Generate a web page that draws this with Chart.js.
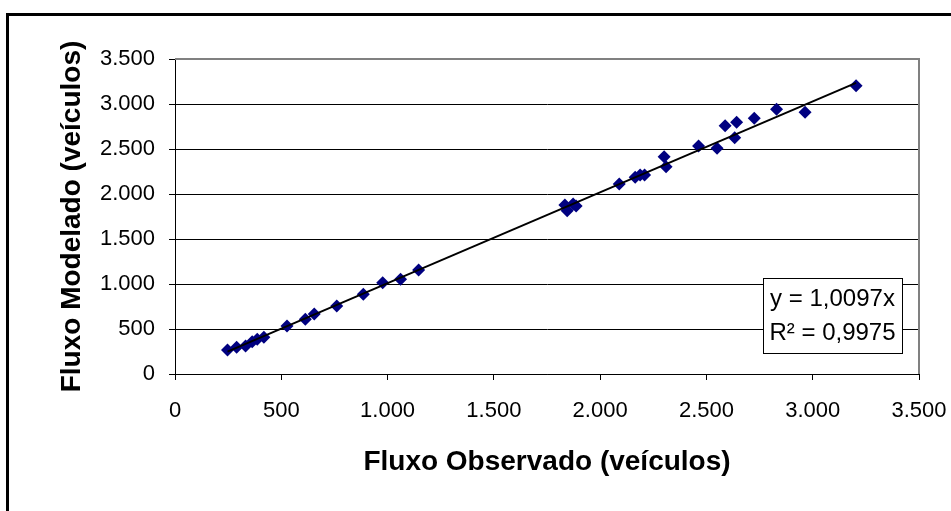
<!DOCTYPE html>
<html>
<head>
<meta charset="utf-8">
<script src="https://cdn.jsdelivr.net/npm/chart.js@4.4.1/dist/chart.umd.min.js"></script>
<style>
  html, body { margin: 0; padding: 0; background: #fff; }
  #wrap { width: 951px; height: 511px; position: relative; }
</style>
</head>
<body>
<div id="wrap"><canvas id="chart" width="951" height="511"></canvas></div>
<script>
const observado = [247, 290, 332, 363, 387, 418, 527, 613, 655, 761, 886, 977, 1061, 1146,
                   1834, 1845, 1873, 1887, 2090, 2165, 2188, 2209, 2301, 2310, 2463, 2550,
                   2588, 2633, 2642, 2725, 2830, 2964, 3204];
const modelado  = [267, 296, 311, 359, 385, 407, 533, 607, 667, 756, 885, 1015, 1052, 1155,
                   1878, 1815, 1889, 1867, 2111, 2185, 2211, 2211, 2415, 2304, 2533, 2507,
                   2759, 2626, 2796, 2841, 2941, 2907, 3203];
const slope = 1.0097;
const equationLines = ['y = 1,0097x', 'R\u00B2 = 0,9975'];
const axisTicks = [0, 500, 1000, 1500, 2000, 2500, 3000, 3500];

const points = observado.map((x, i) => ({ x: x, y: modelado[i] }));
const xMin = Math.min(...observado);
const xMax = Math.max(...observado);
const trend = [{ x: xMin, y: slope * xMin }, { x: xMax, y: slope * xMax }];

function fmt(v) {
    return String(v).replace(/\B(?=(\d{3})+(?!\d))/g, '.');
}

// outer frame, grey plot border and equation box
const decor = {
    id: 'decor',
    beforeDraw(chart) {
        const c = chart.ctx;
        c.save();
        c.fillStyle = '#fff';
        c.fillRect(0, 0, chart.width, chart.height);
        c.strokeStyle = '#000';
        c.lineWidth = 3;
        c.beginPath();
        c.moveTo(7.5, chart.height);
        c.lineTo(7.5, 14.5);
        c.lineTo(chart.width, 14.5);
        c.stroke();
        c.restore();
    },
    afterDatasetsDraw(chart) {
        const c = chart.ctx;
        const a = chart.chartArea;
        c.save();
        c.strokeStyle = '#808080';
        c.lineWidth = 2;
        c.beginPath();
        c.moveTo(a.left, a.top);
        c.lineTo(a.right, a.top);
        c.lineTo(a.right, a.bottom);
        c.stroke();

        // trendline label box
        const bx = 763, by = 278, bw = 139, bh = 75;
        c.fillStyle = '#fff';
        c.fillRect(bx, by, bw, bh);
        c.strokeStyle = '#000';
        c.lineWidth = 1;
        c.strokeRect(bx + 0.5, by + 0.5, bw, bh);
        c.fillStyle = '#000';
        c.font = '24px "Liberation Sans", Arial, sans-serif';
        c.textBaseline = 'middle';
        c.textAlign = 'center';
        c.fillText(equationLines[0], bx + bw / 2, by + 21);
        c.fillText(equationLines[1], bx + bw / 2, by + 55);
        c.restore();
    }
};

const tickFont = { family: '"Liberation Sans", Arial, sans-serif', size: 22 };
const titleFont = { family: '"Liberation Sans", Arial, sans-serif', size: 28, weight: 'bold' };

new Chart(document.getElementById('chart'), {
    type: 'scatter',
    data: {
        datasets: [{
            label: 'Fluxo',
            data: points,
            pointStyle: 'rectRot',
            pointRadius: 6.5,
            pointHoverRadius: 6.5,
            backgroundColor: '#000080',
            borderColor: '#000080',
            borderWidth: 0,
            order: 1
        }, {
            type: 'line',
            label: 'Tendência',
            data: trend,
            borderColor: '#000',
            borderWidth: 2,
            pointRadius: 0,
            fill: false,
            order: 0
        }]
    },
    options: {
        responsive: false,
        animation: false,
        events: [],
        layout: { padding: { left: 0, top: 59, right: 32, bottom: 0 } },
        plugins: { legend: { display: false }, tooltip: { enabled: false } },
        scales: {
            x: {
                type: 'linear',
                min: 0, max: 3500,
                afterBuildTicks: s => { s.ticks = axisTicks.map(v => ({ value: v })); },
                afterFit: s => { s.height = 137; s.paddingLeft = 0; s.paddingRight = 0; },
                grid: { drawOnChartArea: false, drawTicks: true, tickLength: 6, color: '#000', lineWidth: 1 },
                border: { display: true, color: '#000', width: 1 },
                ticks: { color: '#000', font: tickFont, padding: 18, maxRotation: 0, callback: v => fmt(v) },
                title: { display: true, text: 'Fluxo Observado (veículos)', color: '#000', font: titleFont,
                         padding: { top: 0, bottom: 32 } }
            },
            y: {
                type: 'linear',
                min: 0, max: 3500,
                afterBuildTicks: s => { s.ticks = axisTicks.map(v => ({ value: v })); },
                afterFit: s => { s.width = 175; s.paddingTop = 0; s.paddingBottom = 0; },
                grid: { drawOnChartArea: true, drawTicks: true, tickLength: 6, color: '#000', lineWidth: 1 },
                border: { display: true, color: '#000', width: 1 },
                ticks: { color: '#000', font: tickFont, padding: 14, callback: v => fmt(v) },
                title: { display: true, text: 'Fluxo Modelado (veículos)', color: '#000', font: titleFont,
                         padding: { top: 55, bottom: 0 } }
            }
        }
    },
    plugins: [decor]
});
</script>
</body>
</html>
